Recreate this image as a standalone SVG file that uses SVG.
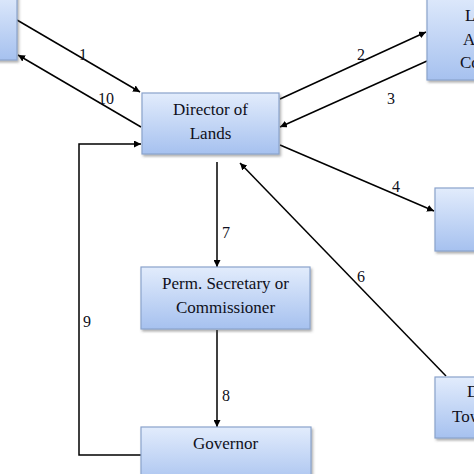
<svg xmlns="http://www.w3.org/2000/svg" width="474" height="474" viewBox="0 0 474 474">
<style>
.box{fill:url(#g);stroke:#8aa3cc;stroke-width:1.2;filter:url(#sh)}
.t{font-family:"Liberation Serif","Times New Roman",serif;font-size:17px;fill:#0f1020}
.c{text-anchor:middle}
.l{font-family:"Liberation Serif","Times New Roman",serif;font-size:16px;fill:#0f1020}
.e{fill:none;stroke:#000;stroke-width:1.5;marker-end:url(#a)}
</style>
<defs>
<linearGradient id="g" x1="0" y1="0" x2="0" y2="1">
<stop offset="0" stop-color="#e2ecfc"/>
<stop offset="1" stop-color="#a6c1ef"/>
</linearGradient>
<filter id="sh" x="-10%" y="-10%" width="130%" height="140%">
<feDropShadow dx="1.5" dy="2" stdDeviation="1.2" flood-color="#555" flood-opacity="0.45"/>
</filter>
<marker id="a" viewBox="0 0 10 10" refX="10" refY="5" markerWidth="7" markerHeight="7" markerUnits="userSpaceOnUse" orient="auto">
<path d="M0,0 L10,5 L0,10 z" fill="#000"/>
</marker>
</defs>
<g id="connectors">
<line class="e" x1="17" y1="20" x2="140" y2="92"/>
<line class="e" x1="141" y1="127" x2="18" y2="55"/>
<line class="e" x1="280" y1="99" x2="426" y2="32"/>
<line class="e" x1="427" y1="61" x2="280" y2="127"/>
<line class="e" x1="280" y1="145" x2="434" y2="211"/>
<line class="e" x1="446" y1="376" x2="240" y2="163"/>
<line class="e" x1="217" y1="162" x2="217" y2="267"/>
<line class="e" x1="217" y1="330" x2="217" y2="427"/>
<polyline class="e" points="141,455 79,455 79,144 141,144"/>
<text class="l" x="79" y="60">1</text>
<text class="l" x="98" y="104">10</text>
<text class="l" x="357" y="60">2</text>
<text class="l" x="387" y="104">3</text>
<text class="l" x="392" y="192">4</text>
<text class="l" x="357" y="282">6</text>
<text class="l" x="222" y="238">7</text>
<text class="l" x="222" y="401">8</text>
<text class="l" x="83" y="327">9</text>
</g>
<g id="node-left">
<rect class="box" x="-10" y="-10" width="27" height="70"/>
</g>
<g id="node-director">
<rect class="box" x="142" y="93" width="137" height="61"/>
<text class="t c" x="210.5" y="115">Director of</text>
<text class="t c" x="210.5" y="139">Lands</text>
</g>
<g id="node-top-right">
<rect class="box" x="427" y="-10" width="60" height="90"/>
<text class="t" x="465" y="21">L</text>
<text class="t" x="463" y="45">A</text>
<text class="t" x="460" y="68">Co</text>
</g>
<g id="node-right">
<rect class="box" x="435" y="188" width="50" height="63"/>
</g>
<g id="node-bottom-right">
<rect class="box" x="435" y="377" width="50" height="61"/>
<text class="t" x="467" y="397">D</text>
<text class="t" x="452" y="422">Tow</text>
</g>
<g id="node-perm">
<rect class="box" x="141" y="267" width="169" height="62"/>
<text class="t c" x="225.5" y="289">Perm. Secretary or</text>
<text class="t c" x="225.5" y="313">Commissioner</text>
</g>
<g id="node-governor">
<rect class="box" x="141" y="427" width="170" height="60"/>
<text class="t c" x="225.5" y="449">Governor</text>
</g>
</svg>
